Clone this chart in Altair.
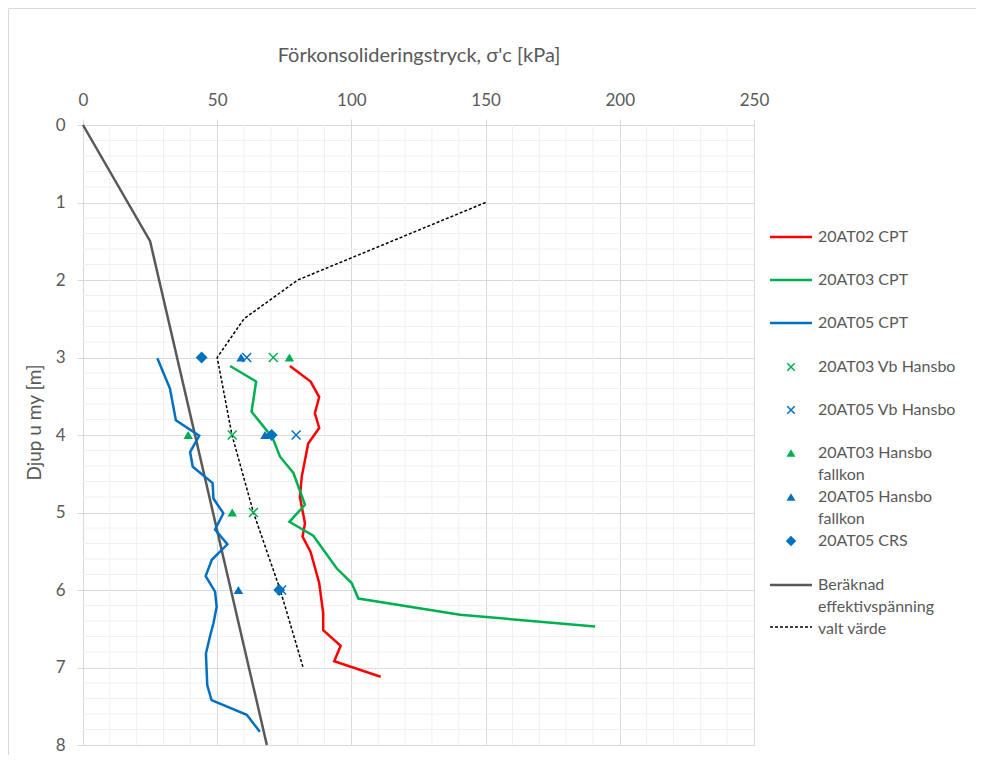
import altair as alt
import pandas as pd

# ---------------- data (kPa, depth m) ----------------
cpt02_x = [77.1, 84.8, 88.0, 86.4, 88.0, 83.9, 81.5, 80.8, 82.7, 81.8, 84.8, 88.0, 89.5, 89.5, 96.0, 93.6, 110.9]
cpt02_d = [3.11, 3.31, 3.51, 3.72, 3.91, 4.11, 4.54, 4.80, 5.14, 5.31, 5.51, 5.91, 6.30, 6.52, 6.72, 6.92, 7.12]

cpt03_x = [54.8, 64.5, 62.8, 68.4, 70.9, 73.4, 78.4, 82.7, 76.9, 85.8, 94.5, 100.1, 102.6, 140.5, 190.8]
cpt03_d = [3.11, 3.31, 3.70, 3.94, 4.06, 4.28, 4.49, 4.90, 5.12, 5.30, 5.72, 5.91, 6.11, 6.32, 6.47]

cpt05_x = [27.7, 32.4, 34.6, 43.3, 39.9, 40.9, 48.3, 48.6, 52.3, 49.2, 53.8, 48.0, 45.7, 49.2, 49.8,
           48.6, 47.3, 45.8, 46.3, 47.9, 61.0, 65.9]
cpt05_d = [3.01, 3.40, 3.81, 4.01, 4.22, 4.41, 4.62, 4.82, 5.01, 5.22, 5.41, 5.61, 5.82, 6.02, 6.22,
           6.43, 6.60, 6.82, 7.23, 7.42, 7.61, 7.83]

vb03_x = [70.9, 55.6, 63.5]
vb03_d = [3, 4, 5]
vb05_x = [61.0, 79.4, 74.0]
vb05_d = [3, 4, 6]
fk03_x = [76.9, 39.2, 55.6]
fk03_d = [3, 4, 5]
fk05_x = [58.9, 67.8, 57.9]
fk05_d = [3, 4, 6]
crs05_x = [44.2, 70.3, 73.1]
crs05_d = [3, 4, 6]

eff_x = [0, 25, 68.5]
eff_d = [0, 1.5, 8]
valt_x = [150, 80, 60, 50, 55.5, 63.5, 73.5, 82]
valt_d = [1, 2, 2.5, 3, 4, 5, 6, 7]

x_ticks = [0, 50, 100, 150, 200, 250]
y_ticks = [0, 1, 2, 3, 4, 5, 6, 7, 8]
x_minor = [v for v in range(10, 250, 10) if v % 50]
y_minor = [round(i * 0.2, 1) for i in range(1, 40) if i % 5]

FONT = "Lato"
TXT = "#595959"
GRID = "#d9d9d9"
MINOR = "#f0f0f0"

xscale = alt.Scale(domain=[0, 250], nice=False, zero=False)
yscale = alt.Scale(domain=[0, 8], reverse=True, nice=False, zero=False)

xaxis = alt.Axis(orient="top", values=x_ticks, grid=True, gridColor=GRID, domainColor=GRID,
                 tickColor=GRID, tickSize=6, labelPadding=10, labelFont=FONT, labelFontSize=17,
                 labelColor=TXT, labelFlush=False, labelOverlap=False,
                 title="Förkonsolideringstryck, σ'c [kPa]", titleFont=FONT, titleFontSize=20,
                 titleColor=TXT, titleFontWeight="normal", titlePadding=26)
yaxis = alt.Axis(orient="left", values=y_ticks, grid=True, gridColor=GRID, domainColor=GRID,
                 tickColor=GRID, tickSize=6, labelPadding=12, labelFont=FONT, labelFontSize=17,
                 labelColor=TXT, labelFlush=False, labelOverlap=False, format="d",
                 title="Djup u my [m]", titleFont=FONT, titleFontSize=19, titleColor=TXT,
                 titleFontWeight="normal", titlePadding=11, titleY=297)


def X(f):
    return alt.X(f, type="quantitative", scale=xscale, axis=xaxis)


def Y(f):
    return alt.Y(f, type="quantitative", scale=yscale, axis=yaxis)


def series(xs, ds):
    return pd.DataFrame({"x": xs, "d": ds, "i": list(range(len(xs)))})


layers = []

# minor grid
layers.append(alt.Chart(pd.DataFrame({"x": x_minor})).mark_rule(color=MINOR, strokeWidth=1).encode(
    x=X("x"), y=alt.value(0), y2=alt.value(620)))
layers.append(alt.Chart(pd.DataFrame({"d": y_minor})).mark_rule(color=MINOR, strokeWidth=1).encode(
    y=Y("d"), x=alt.value(0), x2=alt.value(671)))


def line(xs, ds, color, width=2.5, dash=None):
    kw = dict(color=color, strokeWidth=width)
    if dash:
        kw["strokeDash"] = dash
    return alt.Chart(series(xs, ds)).mark_line(**kw).encode(x=X("x"), y=Y("d"), order="i:Q")


layers.append(line(eff_x, eff_d, "#595959", 2.5))
layers.append(line(valt_x, valt_d, "#000000", 1.5, [3, 2]))
layers.append(line(cpt02_x, cpt02_d, "#ff0000"))
layers.append(line(cpt03_x, cpt03_d, "#00b050"))
layers.append(line(cpt05_x, cpt05_d, "#0070c0"))

XPATH = "M-1,-1L1,1M-1,1L1,-1"


def pts(xs, ds, shape, color, size, filled=True):
    if filled:
        m = alt.Chart(series(xs, ds)).mark_point(shape=shape, filled=True, color=color, size=size, opacity=1)
    else:
        m = alt.Chart(series(xs, ds)).mark_point(shape=shape, filled=False, color=color, size=size,
                                                  strokeWidth=1.5, opacity=1)
    return m.encode(x=X("x"), y=Y("d"))


layers.append(pts(vb03_x, vb03_d, XPATH, "#00b050", 80, filled=False))
layers.append(pts(vb05_x, vb05_d, XPATH, "#0070c0", 80, filled=False))
layers.append(pts(fk03_x, fk03_d, "triangle-up", "#00b050", 90))
layers.append(pts(fk05_x, fk05_d, "triangle-up", "#0070c0", 90))
layers.append(pts(crs05_x, crs05_d, "diamond", "#0070c0", 140))

# ---------------- chart border ----------------
one = pd.DataFrame({"a": [0]})
layers.append(alt.Chart(one).mark_rule(color=GRID, strokeWidth=1).encode(
    x=alt.value(-74.5), y=alt.value(-116.5), y2=alt.value(640)))
layers.append(alt.Chart(one).mark_rule(color=GRID, strokeWidth=1).encode(
    x=alt.value(-74.5), x2=alt.value(910), y=alt.value(-116.5)))

# ---------------- legend ----------------
LX0, LX1, LSX, LTX = 687, 729, 708, 735


def leg_line(y, color, width=2.5, dash=None):
    kw = dict(color=color, strokeWidth=width)
    if dash:
        kw["strokeDash"] = dash
    return alt.Chart(one).mark_rule(**kw).encode(x=alt.value(LX0), x2=alt.value(LX1), y=alt.value(y))


def leg_sym(y, shape, color, size, filled=True):
    if filled:
        m = alt.Chart(one).mark_point(shape=shape, filled=True, color=color, size=size, opacity=1)
    else:
        m = alt.Chart(one).mark_point(shape=shape, filled=False, color=color, size=size * 0.7,
                                      strokeWidth=1.5, opacity=1)
    return m.encode(x=alt.value(LSX), y=alt.value(y))


def leg_text(y, label):
    return alt.Chart(one).mark_text(text=label, align="left", baseline="middle", font=FONT,
                                    fontSize=16, color=TXT).encode(x=alt.value(LTX), y=alt.value(y))


layers += [leg_line(112, "#ff0000"), leg_text(112, "20AT02 CPT"),
           leg_line(155, "#00b050"), leg_text(155, "20AT03 CPT"),
           leg_line(198, "#0070c0"), leg_text(198, "20AT05 CPT"),
           leg_sym(242, XPATH, "#00b050", 80, False), leg_text(242, "20AT03 Vb Hansbo"),
           leg_sym(285, XPATH, "#0070c0", 80, False), leg_text(285, "20AT05 Vb Hansbo"),
           leg_sym(328, "triangle-up", "#00b050", 80), leg_text(328, "20AT03 Hansbo"),
           leg_text(350, "fallkon"),
           leg_sym(372, "triangle-up", "#0070c0", 80), leg_text(372, "20AT05 Hansbo"),
           leg_text(394, "fallkon"),
           leg_sym(416, "diamond", "#0070c0", 110), leg_text(416, "20AT05 CRS"),
           leg_line(460, "#595959"), leg_text(460, "Beräknad"),
           leg_text(482, "effektivspänning"),
           leg_line(502, "#000000", 1.5, [3, 2]), leg_text(504, "valt värde")]

chart = alt.layer(*layers).properties(
    width=671, height=620,
    autosize=alt.AutoSizeParams(type="none"),
    padding={"left": 75, "top": 117, "right": 222, "bottom": 10},
).configure_view(stroke=None)

chart.save("out.html", embed_options={"renderer": "svg", "actions": False})
